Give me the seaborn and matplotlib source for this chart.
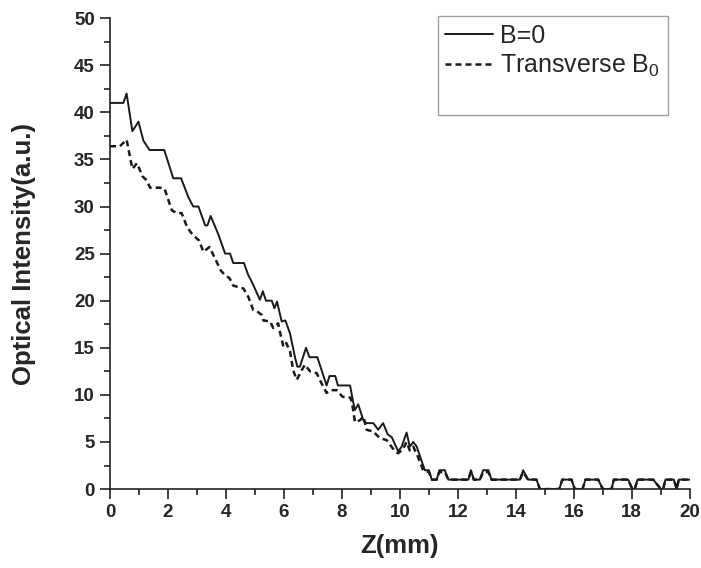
import pandas as pd
import matplotlib
matplotlib.use("Agg")
import matplotlib.pyplot as plt
from matplotlib.lines import Line2D
from matplotlib.ticker import MultipleLocator
import seaborn as sns

# B=0 curve, vertices
z_b0 = [0, 0.46, 0.57, 0.77, 0.98, 1.15, 1.36, 1.87, 2.18, 2.45, 2.70, 2.87, 3.05,
        3.28, 3.36, 3.47, 3.74, 3.97, 4.14, 4.25, 4.62, 4.77, 4.89, 5.17, 5.27, 5.38,
        5.58, 5.67, 5.76, 5.92, 6.05, 6.21, 6.38, 6.46, 6.55, 6.76, 6.88, 7.15, 7.30,
        7.47, 7.57, 7.77, 7.86, 8.28, 8.39, 8.45, 8.56, 8.74, 8.85, 9.08, 9.25, 9.42,
        9.58, 9.72, 9.94, 10.06, 10.23, 10.34, 10.46, 10.58, 10.69, 10.86, 11.0, 11.1,
        11.27, 11.36, 11.55, 11.67, 12.36, 12.45, 12.55, 12.76, 12.87, 13.05, 13.16,
        14.14, 14.25, 14.42, 14.71, 14.83, 15.5, 15.6, 15.92, 16.03, 16.3, 16.4, 16.84,
        17.0, 17.3, 17.38, 17.87, 18.02, 18.1, 18.2, 18.74, 19.0, 19.08, 19.16, 19.45,
        19.55, 19.62, 20]
i_b0 = [41, 41, 42, 38, 39, 37, 36, 36, 33, 33, 31, 30, 30,
        28, 28, 29, 27, 25, 25, 24, 24, 22.7, 22, 20.1, 21, 20,
        20, 19.2, 19.9, 17.8, 17.9, 16.5, 14, 13, 13, 15, 14, 14, 12.6,
        11, 12, 12, 11, 11, 9.2, 8.4, 9, 7.3, 7, 7, 6.3, 7,
        5.8, 5.5, 4, 4.5, 6, 4.5, 5, 4.5, 3.5, 2, 2, 1,
        1, 2, 2, 1, 1, 2, 1, 1, 2, 2, 1,
        1, 2, 1, 1, 0, 0, 1, 1, 0, 0, 1, 1,
        0, 0, 1, 1, 0, 0, 1, 1, 0, 0, 1, 1,
        0, 1, 1]

# Transverse B0 curve
z_tr = [0, 0.34, 0.57, 0.77, 0.93, 1.12, 1.26, 1.38, 1.72, 1.88, 2.13, 2.30, 2.47,
        2.66, 2.85, 3.07, 3.22, 3.43, 3.62, 3.82, 3.97, 4.12, 4.25, 4.60, 4.77, 4.94,
        5.10, 5.23, 5.29, 5.52, 5.63, 5.80, 5.86, 5.98, 6.08, 6.21, 6.32, 6.44, 6.61,
        6.72, 6.90, 7.13, 7.30, 7.47, 7.62, 7.82, 8.02, 8.30, 8.37, 8.45, 8.62, 8.74,
        8.85, 9.08, 9.31, 9.54, 9.71, 9.83, 9.94, 10.1, 10.23, 10.34, 10.46, 10.6,
        10.8, 11.0, 11.1, 11.27, 11.36, 11.55, 11.67, 12.36, 12.45, 12.55, 12.76,
        12.87, 13.05, 13.16, 14.14, 14.25, 14.42, 14.71, 14.83, 15.5, 15.6, 15.92,
        16.03, 16.3, 16.4, 16.84, 17.0, 17.3, 17.38, 17.87, 18.02, 18.1, 18.2, 18.74,
        19.0, 19.08, 19.16, 19.45, 19.55, 19.62, 20]
i_tr = [36.4, 36.4, 37.1, 34, 34.6, 33.2, 32.8, 32, 32, 31.9, 29.6, 29.3, 29.3,
        27.8, 27, 26.4, 25.2, 25.7, 24.5, 23.2, 22.7, 22.4, 21.6, 21.3, 20.4, 19,
        18.8, 18.5, 17.9, 17.8, 17.1, 17.6, 16.7, 15.1, 15.5, 14.6, 12.6, 11.6, 12.6,
        13.2, 12.5, 12.3, 11.2, 10.2, 10.5, 10.5, 9.8, 9.7, 8.7, 7.1, 7.3, 7.7,
        6.3, 6.1, 5.4, 5.2, 4.5, 4.0, 3.8, 4.2, 5, 4.1, 4.5, 3.6,
        2, 1.8, 1, 1, 1.8, 1.8, 1, 1, 1.8, 1, 1,
        1.8, 1.8, 1, 1, 1.8, 1, 1, 0, 0, 1, 1,
        0, 0, 1, 1, 0, 0, 1, 1, 0, 0, 1, 1,
        0, 0, 1, 1, 0, 1, 1]

df = pd.concat([
    pd.DataFrame({'z': z_b0, 'intensity': i_b0, 'series': 'B=0'}),
    pd.DataFrame({'z': z_tr, 'intensity': i_tr, 'series': 'Transverse'}),
], ignore_index=True)

sns.set_style("ticks")
plt.rcParams['font.family'] = ['Liberation Sans', 'DejaVu Sans']
plt.rcParams['mathtext.fontset'] = 'custom'
plt.rcParams['mathtext.rm'] = 'Liberation Sans'

fig, ax = plt.subplots(figsize=(7.01, 5.68), dpi=100)
fig.subplots_adjust(left=0.157, right=0.984, bottom=0.139, top=0.968)

sns.lineplot(data=df[df['series'] == 'B=0'], x='z', y='intensity', sort=False,
             estimator=None, color='#1a1a1a', linewidth=1.4, ax=ax)
sns.lineplot(data=df[df['series'] == 'Transverse'], x='z', y='intensity', sort=False,
             estimator=None, color='#1a1a1a', linewidth=1.8, ax=ax)
ax.lines[1].set_dashes((2.4, 1.6))

ax.set_xlim(0, 20)
ax.set_ylim(0, 50)
ax.xaxis.set_major_locator(MultipleLocator(2))
ax.xaxis.set_minor_locator(MultipleLocator(1))
ax.yaxis.set_major_locator(MultipleLocator(5))
ax.yaxis.set_minor_locator(MultipleLocator(2.5))
ax.tick_params(which='major', length=7, width=1.2, labelsize=13.5, color='#222222', pad=4)
ax.tick_params(which='minor', length=4, width=1.2, color='#222222')
for lab in ax.get_xticklabels() + ax.get_yticklabels():
    lab.set_fontweight('bold')
for sp in ['left', 'bottom']:
    ax.spines[sp].set_linewidth(1.2)
    ax.spines[sp].set_color('#222222')
sns.despine(ax=ax)

ax.set_xlabel('Z(mm)', fontsize=18.5, fontweight='bold')
ax.set_ylabel('Optical Intensity(a.u.)', fontsize=18.5, fontweight='bold')
ax.xaxis.set_label_coords(0.5, -0.095)
ax.yaxis.set_label_coords(-0.128, 0.5)

handles = [Line2D([], [], color='#1a1a1a', linewidth=1.4),
           Line2D([], [], color='#1a1a1a', linewidth=1.8, dashes=(2.4, 1.6)),
           Line2D([], [], color='none')]
leg = ax.legend(handles, ['B=0', 'Transverse B$_\\mathregular{0}$', ' '],
                loc='upper right', bbox_to_anchor=(0.962, 1.004), fontsize=18,
                frameon=True, fancybox=False, handlelength=1.9, handletextpad=0.3,
                borderpad=0.3, labelspacing=0.2, borderaxespad=0.0)
leg.get_frame().set_edgecolor('#888888')
leg.get_frame().set_linewidth(1.0)

fig.savefig('out.png', dpi=100)
